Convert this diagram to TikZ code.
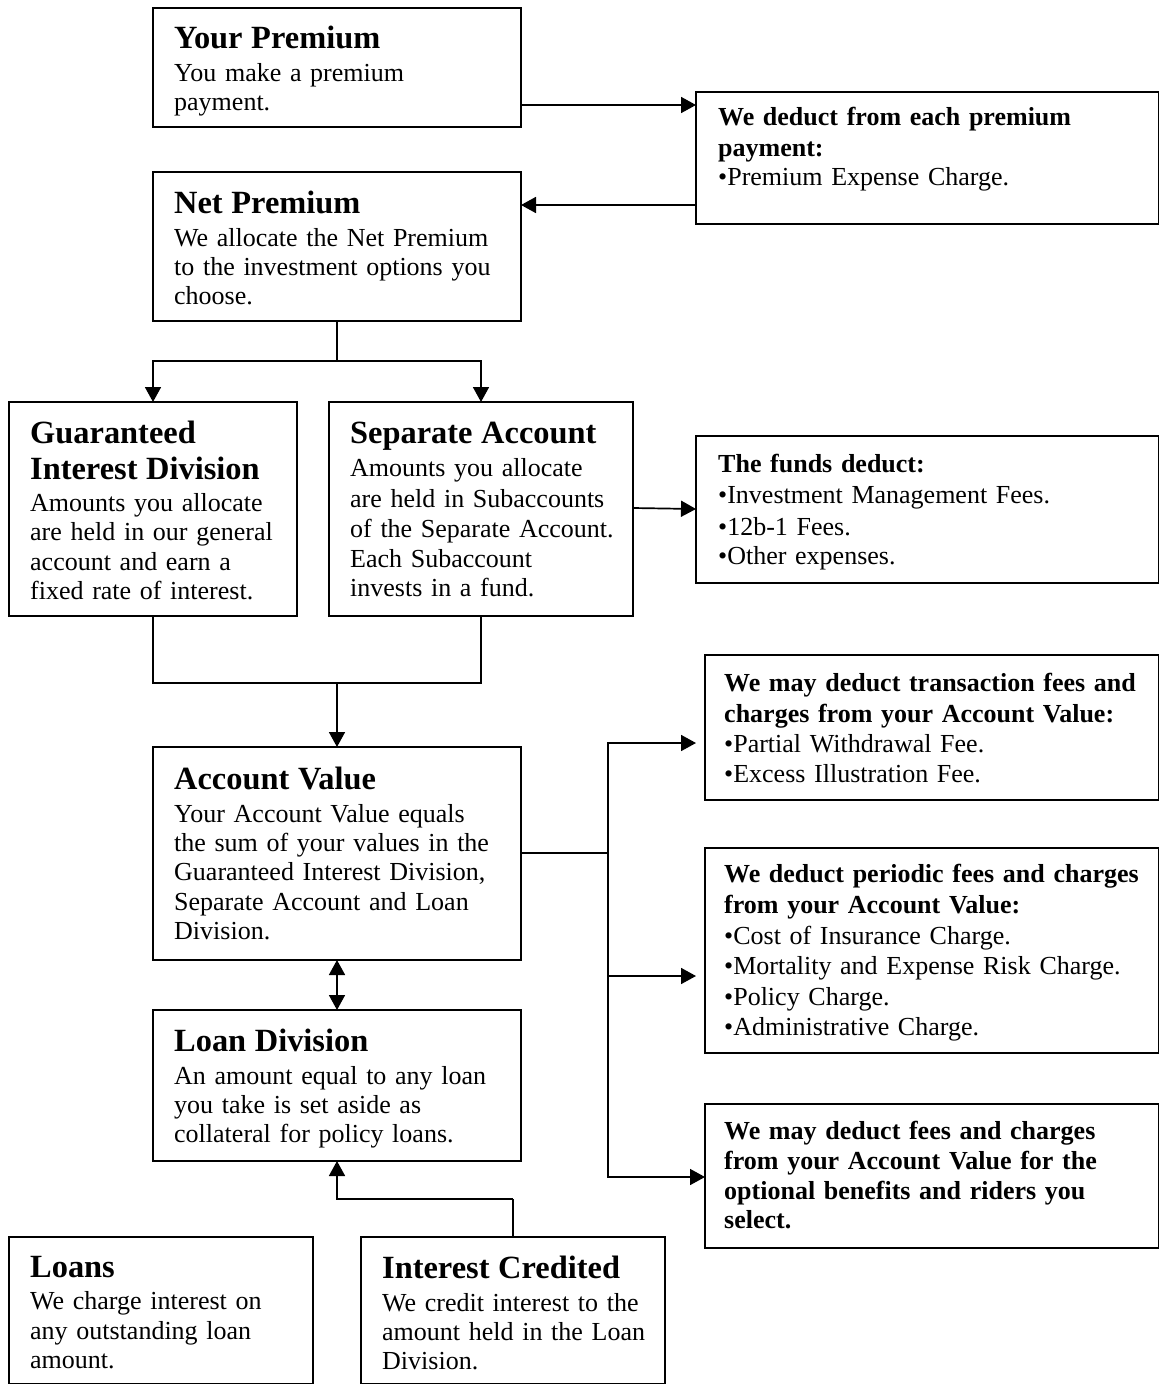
\documentclass[tikz,border=0pt]{standalone}
\usepackage{fontspec}
\setmainfont{Liberation Serif}
\usetikzlibrary{arrows.meta}
\newcommand{\ttl}[1]{{\fontsize{32.4}{35.5}\selectfont\bfseries #1\par}}
\newcommand{\gp}{\par\vspace{3pt}}
\newcommand{\ls}[1]{\fontsize{26}{#1}\selectfont}
\tikzset{
 x=1pt,y=-1pt,
 boxx/.style={draw,line width=1.7pt,inner sep=0pt,outer sep=0pt},
 txt/.style={anchor=north west,inner sep=0pt,align=left,font=\fontsize{26}{29.4}\selectfont},
 lnk/.style={line width=1.7pt},
 arr/.style={line width=1.7pt,-{Triangle[length=15pt,width=16pt]}},
 arrb/.style={line width=1.7pt,{Triangle[length=15pt,width=16pt]}-{Triangle[length=15pt,width=16pt]}},
}
\newcommand{\bx}[7]{%
 \node[boxx,anchor=north west,minimum width=#4-#2,minimum height=#5-#3] (#1) at (#2,#3) {};
 \node[txt,text width=500pt] (#1t) at (#6,#3+#7) {\dotext};}
\begin{document}
\begin{tikzpicture}
\useasboundingbox (0,0) rectangle (1159,1384);
\def\dotext{\ttl{Your Premium}\gp You make a premium\\payment.}
\bx{a}{153}{8}{521}{127}{174}{18}
\def\dotext{\ttl{Net Premium}\gp We allocate the Net Premium\\to the investment options you\\choose.}
\bx{b}{153}{172}{521}{321}{174}{19}
\def\dotext{\ls{30.8}\textbf{We deduct from each premium}\\\textbf{payment:}\\•Premium Expense Charge.}
\bx{c}{696}{92}{1159}{224}{718}{15}
\def\dotext{\ttl{Guaranteed}\ttl{Interest Division}\gp Amounts you allocate\\are held in our general\\account and earn a\\fixed rate of interest.}
\bx{d}{9}{402}{297}{616}{30}{19}
\def\dotext{\ttl{Separate Account}\gp\ls{30.2}Amounts you allocate\\are held in Subaccounts\\of the Separate Account.\\Each Subaccount\\invests in a fund.}
\bx{e}{329}{402}{633}{616}{350}{20}
\def\dotext{\ls{31.3}\textbf{The funds deduct:}\\•Investment Management Fees.\\•12b-1 Fees.\\•Other expenses.}
\bx{f}{696}{436}{1159}{583}{718}{18}
\def\dotext{\ttl{Account Value}\gp Your Account Value equals\\the sum of your values in the\\Guaranteed Interest Division,\\Separate Account and Loan\\Division.}
\bx{g}{153}{747}{521}{960}{174}{20}
\def\dotext{\ls{30.7}\textbf{We may deduct transaction fees and}\\\textbf{charges from your Account Value:}\\•Partial Withdrawal Fee.\\•Excess Illustration Fee.}
\bx{h}{705}{655}{1159}{800}{724}{18}
\def\dotext{\ls{30.8}\textbf{We deduct periodic fees and charges}\\\textbf{from your Account Value:}\\•Cost of Insurance Charge.\\•Mortality and Expense Risk Charge.\\•Policy Charge.\\•Administrative Charge.}
\bx{i}{705}{848}{1159}{1053}{724}{16}
\def\dotext{\ls{30}\textbf{We may deduct fees and charges}\\\textbf{from your Account Value for the}\\\textbf{optional benefits and riders you}\\\textbf{select.}}
\bx{j}{705}{1104}{1159}{1248}{724}{17}
\def\dotext{\ttl{Loan Division}\gp An amount equal to any loan\\you take is set aside as\\collateral for policy loans.}
\bx{k}{153}{1010}{521}{1161}{174}{19}
\def\dotext{\ttl{Loans}\gp We charge interest on\\any outstanding loan\\amount.}
\bx{l}{9}{1237}{313}{1384}{30}{19}
\def\dotext{\ttl{Interest Credited}\gp We credit interest to the\\amount held in the Loan\\Division.}
\bx{m}{361}{1237}{665}{1384}{382}{19}
% connectors
\coordinate (ja) at (696,105);
\draw[arr] (a.east |- ja) -- (ja);
\coordinate (jb) at (521,205);
\draw[arr] (c.west |- jb) -- (jb);
\coordinate (j1) at (337,361);
\coordinate (jd) at (153,402);
\coordinate (je) at (481,402);
\draw[lnk] (b.south -| j1) -- (j1);
\draw[arr] (j1) -| (jd);
\draw[arr] (j1) -| (je);
\coordinate (jf) at (696,509);
\draw[arr] (e.east) ++(0,-1) -- (jf);
\coordinate (j2) at (337,683);
\coordinate (jda) at (153,616);
\coordinate (jeb) at (481,616);
\draw[lnk] (jda) |- (j2);
\draw[lnk] (jeb) |- (j2);
\draw[arr] (j2) -- (g.north -| j2);
\coordinate (j3) at (608,853);
\draw[lnk] (g.east |- j3) -- (j3);
\coordinate (th) at (696,743);
\coordinate (ti) at (696,976);
\coordinate (tj) at (705,1177);
\draw[arr] (j3) |- (th);
\draw[arr] (j3) |- (ti);
\draw[arr] (j3) |- (tj);
\draw[arrb] (g.south) -- (k.north);
\coordinate (j4) at (513,1199);
\draw[lnk] (m.north -| j4) -- (j4);
\draw[arr] (j4) -| (k.south);
\end{tikzpicture}
\end{document}
